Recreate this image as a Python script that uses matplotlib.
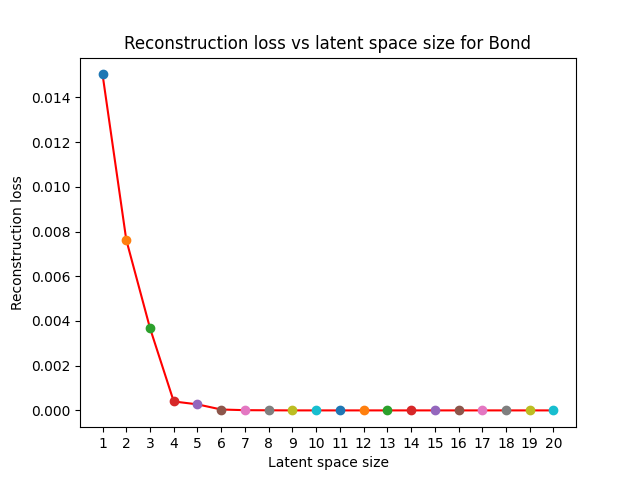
import numpy as np
import matplotlib
matplotlib.use('Agg')
import matplotlib.pyplot as plt

latent_sizes = list(range(1, 21))
losses = [0.01503, 0.00763, 0.00368, 0.00040, 0.00027, 0.00004, 0.00001, 0.000005,
          0.0, 0.0, 0.0, 0.0, 0.0, 0.0, 0.0, 0.0, 0.0, 0.0, 0.0, 0.0]

plt.figure(figsize=(6.4, 4.8), dpi=100)
plt.plot(latent_sizes, losses, 'r-')
for s, l in zip(latent_sizes, losses):
	plt.plot(s, l, 'o')

plt.xticks(latent_sizes)
plt.title('Reconstruction loss vs latent space size for Bond')
plt.xlabel('Latent space size')
plt.ylabel('Reconstruction loss')
plt.savefig('out.png')
